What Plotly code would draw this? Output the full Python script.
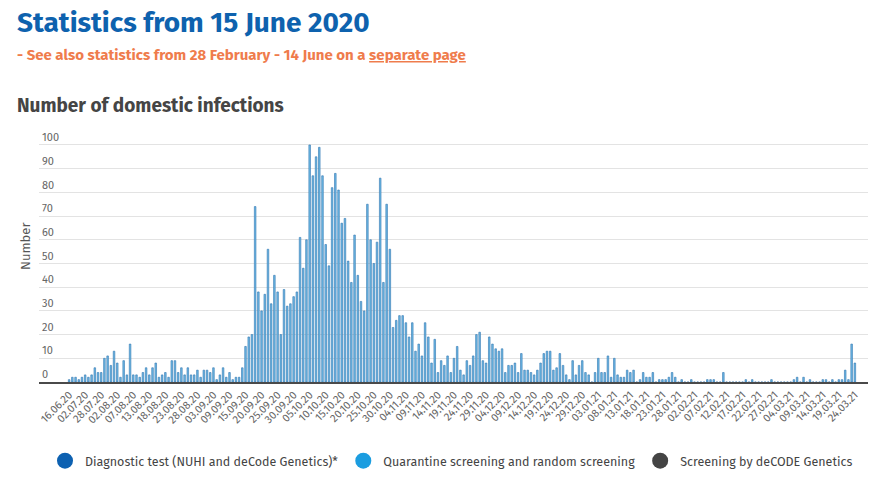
import pandas as pd
import plotly.graph_objects as go

# ---- categories (days with reported domestic infections) ----
early_dates = ["16.06.20", "19.06.20", "23.06.20", "26.06.20", "30.06.20",
               "02.07.20", "15.07.20", "21.07.20", "23.07.20", "26.07.20",
               "28.07.20", "29.07.20", "30.07.20", "31.07.20", "01.08.20",
               "02.08.20", "03.08.20", "04.08.20", "05.08.20", "06.08.20",
               "07.08.20", "08.08.20", "10.08.20", "11.08.20", "12.08.20",
               "13.08.20", "14.08.20", "15.08.20", "16.08.20", "17.08.20",
               "18.08.20", "19.08.20", "20.08.20", "21.08.20", "22.08.20",
               "23.08.20", "24.08.20", "25.08.20", "26.08.20", "27.08.20",
               "28.08.20", "29.08.20", "31.08.20", "01.09.20", "02.09.20",
               "03.09.20", "04.09.20", "05.09.20", "07.09.20", "08.09.20",
               "09.09.20", "10.09.20", "11.09.20", "13.09.20", "14.09.20"]
daily_dates = [d.strftime("%d.%m.%y") for d in pd.date_range("2020-09-15", "2021-03-24")]
categories = early_dates + daily_dates

# ---- daily totals ----
values_jun_sep = [1, 2, 2, 1, 2, 3, 2, 3, 6, 4, 4, 10, 11, 7, 13, 8, 2, 9, 3, 16,
                  3, 3, 2, 4, 6, 3, 6, 8, 2, 3, 4, 2, 9, 9, 4, 6, 3, 6, 3, 3,
                  5, 2, 5, 5, 4, 6, 1, 3, 6, 2, 4, 1, 2, 2, 6]
values_sep_oct = [15, 19, 20, 74, 38, 30, 37, 56, 33, 45, 38, 20, 39, 32, 33, 36,
                  38, 61, 48, 60, 100, 87, 95, 99, 87, 58, 49, 82, 88, 81, 67, 69,
                  51, 42, 62, 45, 34, 30, 75, 60, 50, 59, 86, 42, 75, 56, 23]
values_nov_dec = [26, 28, 28, 25, 19, 25, 13, 16, 11, 25, 19, 8, 18, 4, 9, 7, 11,
                  4, 10, 15, 5, 3, 9, 7, 11, 20, 21, 9, 8, 19, 16, 14, 13, 14, 4,
                  7, 7, 8, 4, 12, 5, 5, 4, 3, 5, 8, 12, 13, 13, 5, 6, 12]
values_jan_feb = [7, 3, 1, 9, 3, 7, 9, 4, 3, 0, 4, 10, 4, 4, 11, 2, 10, 3, 2, 2,
                  5, 4, 5, 0, 1, 4, 2, 2, 4, 0, 1, 1, 1, 2, 4, 2, 0, 1, 0, 0,
                  1, 0, 0, 0, 0, 1, 1, 1, 0, 0, 4]
values_feb_mar = [0, 0, 0, 0, 0, 0, 1, 0, 1, 0, 0, 0, 0, 0, 1, 0, 0, 0, 0, 0,
                  0, 1, 2, 0, 2, 0, 1, 0, 0, 0, 1, 1, 0, 1, 0, 1, 1, 5, 1, 16, 8]
totals = values_jun_sep + values_sep_oct + values_nov_dec + values_jan_feb + values_feb_mar

series_names = ["Diagnostic test (NUHI and deCode Genetics)*",
                "Quarantine screening and random screening",
                "Screening by deCODE Genetics"]
series_colors = ["#0d61b1", "#1b9de0", "#444444"]

tick_labels = categories[::5]

FONT = "Fira Sans, Liberation Sans Narrow, Roboto, sans-serif"

W, H = 883, 481
ML, MR, MT, MB = 39, 15, 126, 99
YMAX = 108

fig = go.Figure()
fig.add_trace(go.Bar(
    x=categories, y=totals, name=series_names[0], showlegend=False, width=0.5,
    marker=dict(color="#6fbbe5", line=dict(color="#2f74b0", width=0.6)),
))
for name, col in zip(series_names, series_colors):
    fig.add_trace(go.Scatter(
        x=[None], y=[None], mode="markers", name=name,
        marker=dict(color=col, size=16, symbol="circle"),
    ))

plot_w = W - ML - MR
plot_h = H - MT - MB
plot_b = H - MB

def px(x):
    return (x - ML) / plot_w

def py(y):
    return (plot_b - y) / plot_h

fig.update_layout(
    width=W, height=H,
    margin=dict(l=ML, r=MR, t=MT, b=MB, autoexpand=False),
    paper_bgcolor="white", plot_bgcolor="white",
    font=dict(family=FONT, color="#444"),
    showlegend=True,
    legend=dict(orientation="h", xref="paper", yref="paper",
                x=px(45), xanchor="left", y=py(461), yanchor="middle",
                font=dict(size=12.5, color="#444"), itemclick=False,
                tracegroupgap=0, itemwidth=30),
    xaxis=dict(type="category", categoryorder="array", categoryarray=categories,
               tickmode="array", tickvals=tick_labels, ticktext=tick_labels,
               tickangle=-45, tickfont=dict(size=11, color="#666"),
               range=[-9.4, 249.1], showgrid=False,
               showline=True, linecolor="#4a4a4a", linewidth=2, ticks=""),
    yaxis=dict(range=[0, YMAX], tickmode="array", tickvals=list(range(0, 101, 10)),
               showgrid=True, gridcolor="#e3e3e3",
               gridwidth=1, zeroline=False, ticklabelposition="inside top",
               tickfont=dict(size=11, color="#666"), showline=False),
    annotations=[
        dict(text="<b>Statistics from 15 June 2020</b>", x=px(15), y=py(22),
             xref="paper", yref="paper", xanchor="left", yanchor="middle", showarrow=False,
             font=dict(size=28, color="#0e62ae", family=FONT)),
        dict(text="<b>- See also statistics from 28 February - 14 June on a <u>separate page</u></b>",
             x=px(15), y=py(55), xref="paper", yref="paper", xanchor="left", yanchor="middle",
             showarrow=False, font=dict(size=15, color="#ef7c4c", family=FONT)),
        dict(text="<b>Number of domestic infections</b>", x=px(15), y=py(105),
             xref="paper", yref="paper", xanchor="left", yanchor="middle", showarrow=False,
             font=dict(size=19, color="#454545", family=FONT)),
        dict(text="Number", x=px(25), y=py(247), xref="paper", yref="paper",
             xanchor="center", yanchor="middle", showarrow=False, textangle=-90,
             font=dict(size=13, color="#555", family=FONT)),
    ],
)

fig.write_html("out.html")
